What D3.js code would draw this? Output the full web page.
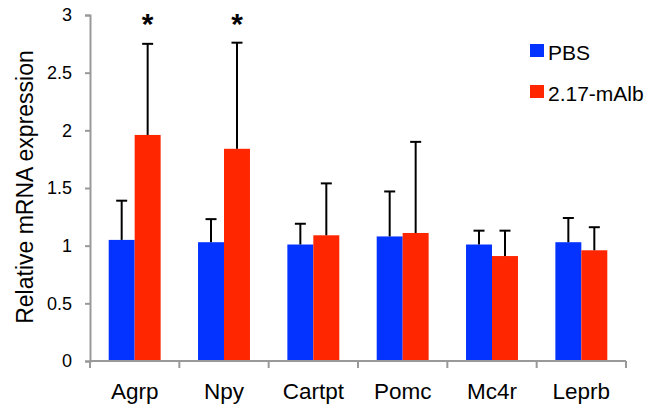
<!DOCTYPE html>
<html>
<head>
<meta charset="utf-8">
<script src="https://cdn.jsdelivr.net/npm/d3@7"></script>
<style>
  html, body { margin: 0; padding: 0; background: #fff; }
  svg { display: block; font-family: "Liberation Sans", Arial, Helvetica, sans-serif; }
</style>
</head>
<body>
<svg id="chart" width="660" height="408"></svg>
<script>
// Gene targets and relative expression (mean, upper error bound)
const genes = ["Agrp", "Npy", "Cartpt", "Pomc", "Mc4r", "Leprb"];
const seriesNames = ["PBS", "2.17-mAlb"];
const pbsMean = [1.05, 1.03, 1.01, 1.08, 1.01, 1.03];
const pbsErr  = [0.34, 0.20, 0.18, 0.39, 0.12, 0.21];
const albMean = [1.96, 1.84, 1.09, 1.11, 0.91, 0.96];
const albErr  = [0.79, 0.92, 0.45, 0.79, 0.22, 0.20];
const significant = [true, true, false, false, false, false];
const yTicks = [0, 0.5, 1, 1.5, 2, 2.5, 3];
const colors = ["#0433FF", "#FF2600"];

const svg = d3.select("#chart");
const margin = { left: 90, right: 34, top: 15, bottom: 47 };
const W = 660, H = 408;

const x = d3.scaleBand().domain(genes).range([margin.left, W - margin.right]).paddingInner(0).paddingOuter(0);
const inner = d3.scaleBand().domain(seriesNames).range([0, x.bandwidth()]).paddingInner(0).paddingOuter(0.72);
const y = d3.scaleLinear().domain([0, 3]).range([H - margin.bottom, margin.top]);

const rows = genes.map((g, i) => ({
  gene: g,
  vals: [
    { s: seriesNames[0], m: pbsMean[i], e: pbsErr[i] },
    { s: seriesNames[1], m: albMean[i], e: albErr[i] }
  ],
  sig: significant[i]
}));

// Bars
const groups = svg.append("g").selectAll("g").data(rows).join("g")
  .attr("transform", d => `translate(${x(d.gene)},0)`);

groups.selectAll("rect").data(d => d.vals).join("rect")
  .attr("x", d => inner(d.s))
  .attr("width", inner.bandwidth())
  .attr("y", d => y(d.m))
  .attr("height", d => y(0) - y(d.m))
  .attr("fill", (d, i) => colors[i]);

// Upper error bars
const cap = 5.5;
groups.selectAll("g.err").data(d => d.vals).join("g").attr("class", "err")
  .each(function(d) {
    const cx = inner(d.s) + inner.bandwidth() / 2;
    const g = d3.select(this);
    g.append("line").attr("x1", cx).attr("x2", cx)
      .attr("y1", y(d.m)).attr("y2", y(d.m + d.e))
      .attr("stroke", "#000").attr("stroke-width", 2);
    g.append("line").attr("x1", cx - cap).attr("x2", cx + cap)
      .attr("y1", y(d.m + d.e)).attr("y2", y(d.m + d.e))
      .attr("stroke", "#000").attr("stroke-width", 2);
  });

// Significance markers
groups.filter(d => d.sig).append("text")
  .attr("x", inner(seriesNames[1]) + inner.bandwidth() / 2)
  .attr("y", 34)
  .attr("text-anchor", "middle")
  .attr("font-size", 30)
  .attr("font-weight", "bold")
  .attr("fill", "#000")
  .text("*");

// Y axis
const yAxis = svg.append("g")
  .attr("transform", `translate(${margin.left},0)`)
  .call(d3.axisLeft(y).tickValues(yTicks).tickSize(5).tickPadding(13).tickFormat(d3.format("~g")));
yAxis.select(".domain").attr("stroke", "#999").attr("stroke-width", 2);
yAxis.selectAll(".tick line").attr("stroke", "#999").attr("stroke-width", 2);
yAxis.selectAll(".tick text").attr("font-size", 18).attr("fill", "#000")
  .attr("font-family", "Liberation Sans, Arial, sans-serif");

// X axis with boundary ticks between categories
const xAxisG = svg.append("g").attr("transform", `translate(0,${y(0)})`);
xAxisG.append("line")
  .attr("x1", margin.left).attr("x2", W - margin.right)
  .attr("y1", 0).attr("y2", 0)
  .attr("stroke", "#999").attr("stroke-width", 2);
const bounds = genes.map(g => x(g)).concat([x(genes[genes.length - 1]) + x.bandwidth()]);
xAxisG.selectAll("line.b").data(bounds).join("line").attr("class", "b")
  .attr("x1", d => d).attr("x2", d => d)
  .attr("y1", 0).attr("y2", 7)
  .attr("stroke", "#999").attr("stroke-width", 2);
xAxisG.selectAll("text").data(genes).join("text")
  .attr("x", d => x(d) + x.bandwidth() / 2)
  .attr("y", 38)
  .attr("text-anchor", "middle")
  .attr("font-size", 22.5)
  .attr("fill", "#000")
  .text(d => d);

// Y axis title
svg.append("text")
  .attr("transform", `translate(33,187) rotate(-90)`)
  .attr("text-anchor", "middle")
  .attr("font-size", 23)
  .attr("fill", "#000")
  .text("Relative mRNA expression");

// Legend
const legend = svg.append("g").attr("transform", "translate(530,44)");
seriesNames.forEach((s, i) => {
  const row = legend.append("g").attr("transform", `translate(0,${i * 41})`);
  row.append("rect").attr("width", 14).attr("height", 13).attr("fill", colors[i]);
  row.append("text").attr("x", 18).attr("y", 15.5).attr("font-size", 21).attr("fill", "#000").text(s);
});
</script>
</body>
</html>
